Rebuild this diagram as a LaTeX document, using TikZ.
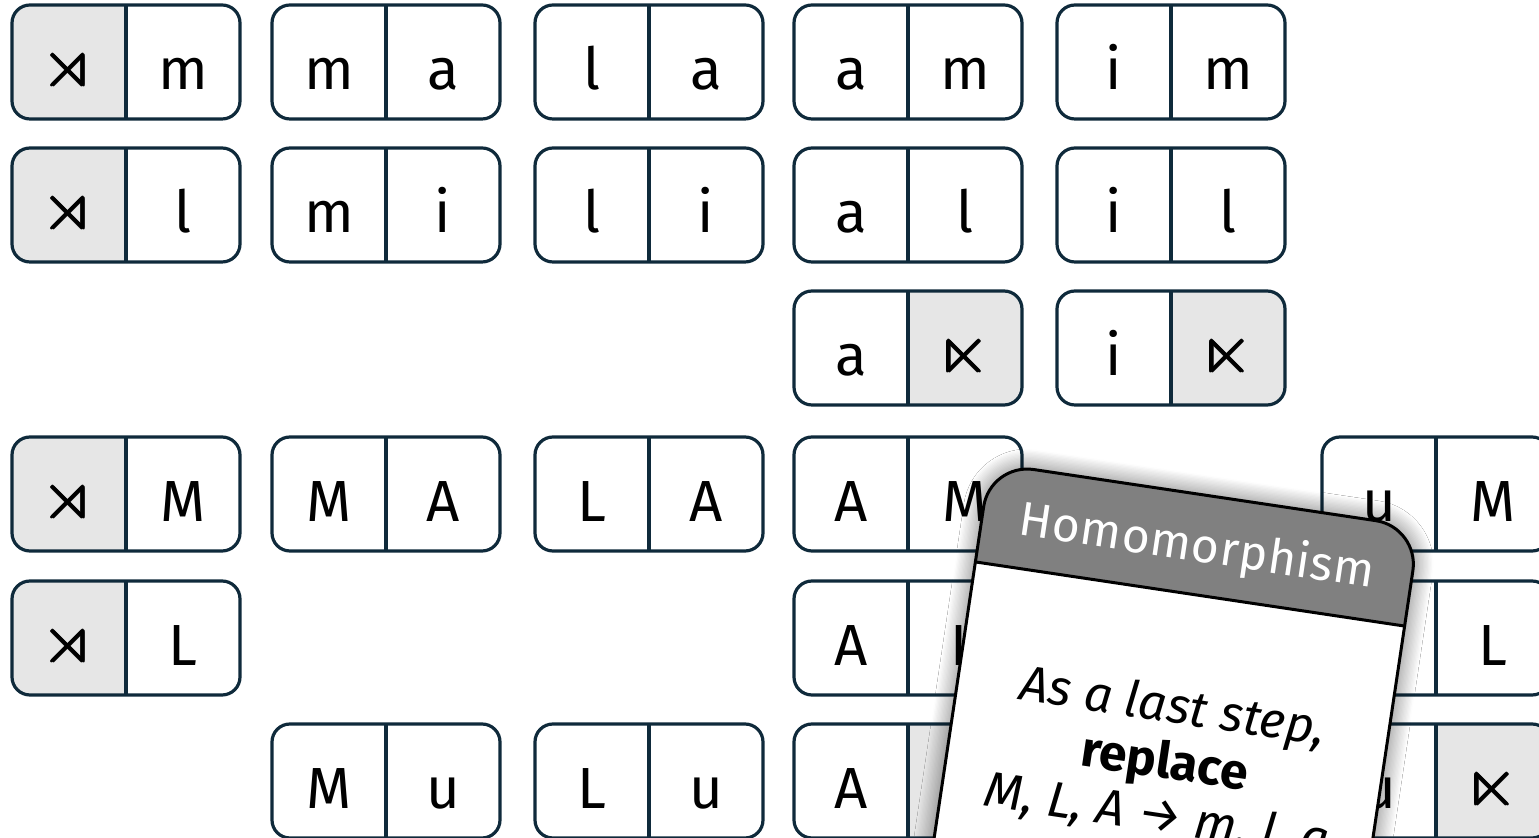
\documentclass[tikz,border=0pt]{standalone}
\usepackage{amsmath,amssymb}
\usepackage{fontspec}
\setmainfont{Fira Sans}
\usetikzlibrary{shadows.blur}

\definecolor{domline}{HTML}{0F2A3B}
\definecolor{domgray}{HTML}{E6E6E6}
\definecolor{cardhead}{HTML}{808080}

\tikzset{
  domedge/.style={draw=domline, line width=1.6pt, rounded corners=9pt},
  letter/.style={anchor=base, inner sep=0pt, font=\fontsize{29}{29}\selectfont},
  cardedge/.style={draw=black, line width=1.5pt},
  headtext/.style={anchor=base, inner sep=0pt, text=white, transform shape,
    font=\fontsize{24}{24}\selectfont\addfontfeature{LetterSpace=1.5}},
  bodytext/.style={anchor=base, inner sep=0pt, transform shape, font=\fontsize{25}{25}\selectfont},
}

% start and end marks of a word
\newcommand{\startsym}{\raisebox{1pt}{\fontsize{34}{34}\selectfont$\pmb{\rtimes}$}}
\newcommand{\finsym}{\raisebox{1pt}{\fontsize{34}{34}\selectfont$\pmb{\ltimes}$}}

% name, x, y, left fill, left text, right fill, right text
\newcommand{\domino}[7]{%
  \begin{scope}[shift={(#2,#3)}]
    \fill[#6, rounded corners=9pt] (0,0) rectangle (228,114);
    \begin{scope}
      \clip (0,0) rectangle (114,114);
      \fill[#4, rounded corners=9pt] (0,0) rectangle (228,114);
    \end{scope}
    \draw[domedge] (0,0) rectangle (228,114);
    \draw[domedge] (114,0) -- (114,114);
    \node[letter] (#1l) at (57,85) {#5};
    \node[letter] (#1r) at (171,85) {#7};
  \end{scope}}

\begin{document}
\begin{tikzpicture}[x=0.5pt, y=-0.5pt, line join=round]
  \useasboundingbox (0,0) rectangle (1539,838);
  \clip (0,0) rectangle (1539,838);

  % lower case pairs
  \domino{sm}{12}{5}{domgray}{\startsym}{white}{m}
  \domino{ma}{272}{5}{white}{m}{white}{a}
  \domino{la}{535}{5}{white}{l}{white}{a}
  \domino{am}{794}{5}{white}{a}{white}{m}
  \domino{im}{1057}{5}{white}{i}{white}{m}
  \domino{sl}{12}{148}{domgray}{\startsym}{white}{l}
  \domino{mi}{272}{148}{white}{m}{white}{i}
  \domino{li}{535}{148}{white}{l}{white}{i}
  \domino{al}{794}{148}{white}{a}{white}{l}
  \domino{il}{1057}{148}{white}{i}{white}{l}
  \domino{ae}{794}{291}{white}{a}{domgray}{\finsym}
  \domino{ie}{1057}{291}{white}{i}{domgray}{\finsym}

  % upper case pairs
  \domino{SM}{12}{437}{domgray}{\startsym}{white}{M}
  \domino{MA}{272}{437}{white}{M}{white}{A}
  \domino{LA}{535}{437}{white}{L}{white}{A}
  \domino{AM}{794}{437}{white}{A}{white}{M}
  \domino{uM}{1322}{437}{white}{u}{white}{M}
  \domino{SL}{12}{581}{domgray}{\startsym}{white}{L}
  \domino{AL}{794}{581}{white}{A}{white}{L}
  \domino{uL}{1322}{581}{white}{u}{white}{L}
  \domino{Mu}{272}{724}{white}{M}{white}{u}
  \domino{Lu}{535}{724}{white}{L}{white}{u}
  \domino{Ae}{794}{724}{white}{A}{domgray}{\finsym}
  \domino{ue}{1322}{724}{white}{u}{domgray}{\finsym}

  % card
  \begin{scope}[shift={(1190,594)}, rotate=-8.5]
    \fill[white, rounded corners=22pt, blur shadow={shadow xshift=0pt, shadow yshift=0pt,
      shadow blur radius=10pt, shadow blur steps=16, shadow opacity=60}] (-217,-100) rectangle (217,420);
    \begin{scope}
      \clip (-217,-100) rectangle (217,0);
      \fill[cardhead, rounded corners=22pt] (-217,-100) rectangle (217,420);
    \end{scope}
    \draw[cardedge, rounded corners=22pt] (-217,-100) rectangle (217,420);
    \draw[cardedge] (-217,0) -- (217,0);
    \node[headtext] (title) at (0,-33) {Homomorphism};
    \node[bodytext] (line1) at (0,130) {\itshape As a last step,};
    \node[bodytext] (line2) at (0,186) {\bfseries replace};
    \node[bodytext] (line3) at (0,240) {\itshape M, L, A → m, l, a};
  \end{scope}
\end{tikzpicture}
\end{document}
